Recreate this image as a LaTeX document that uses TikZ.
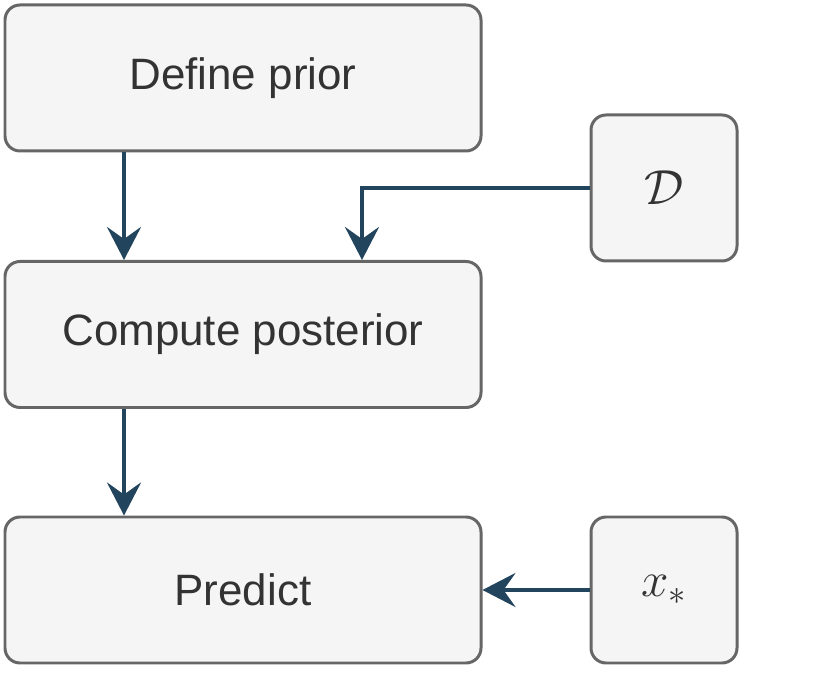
\documentclass[tikz,border=0pt]{standalone}
\usepackage{fix-cm}
\usepackage[no-math]{fontspec}
\setmainfont{Liberation Sans}
\usetikzlibrary{arrows.meta}
\definecolor{boxfill}{HTML}{F5F5F5}
\definecolor{boxline}{HTML}{666666}
\definecolor{boxtext}{HTML}{333333}
\definecolor{flowcol}{HTML}{23445D}
\begin{document}
\begin{tikzpicture}[
  step box/.style={rectangle, rounded corners=0.3cm, draw=boxline, fill=boxfill,
    line width=1.7pt, text=boxtext, minimum width=9.52cm, minimum height=2.92cm,
    inner sep=0pt, font=\fontsize{25}{29}\selectfont},
  input box/.style={step box, minimum width=2.92cm, font=\fontsize{28}{33}\selectfont},
  flow/.style={draw=flowcol, line width=2.2pt,
    -{Stealth[length=6.6mm, width=6.8mm, inset=2.4mm]}}
]
  \useasboundingbox (0, 0) rectangle (16.6, 13.54);

  \node[step box] (prior) at (4.86, 11.98) {Define prior};
  \node[step box] (post) at (4.86, 6.85) {Compute posterior};
  \node[step box] (pred) at (4.86, 1.74) {Predict};

  \node[input box] (data) at (13.28, 9.78) {$\mathcal{D}$};
  \node[input box] (xstar) at (13.28, 1.74) {$x_*$};

  \coordinate (dbend) at (7.24, 9.78);

  \draw[flow] (2.48, 0 |- prior.south) -- (2.48, 0 |- post.north);
  \draw[flow] (2.48, 0 |- post.south) -- (2.48, 0 |- pred.north);
  \draw[flow] (data.west) -- (dbend) -- (dbend |- post.north);
  \draw[flow] (xstar) -- (pred);
\end{tikzpicture}
\end{document}
